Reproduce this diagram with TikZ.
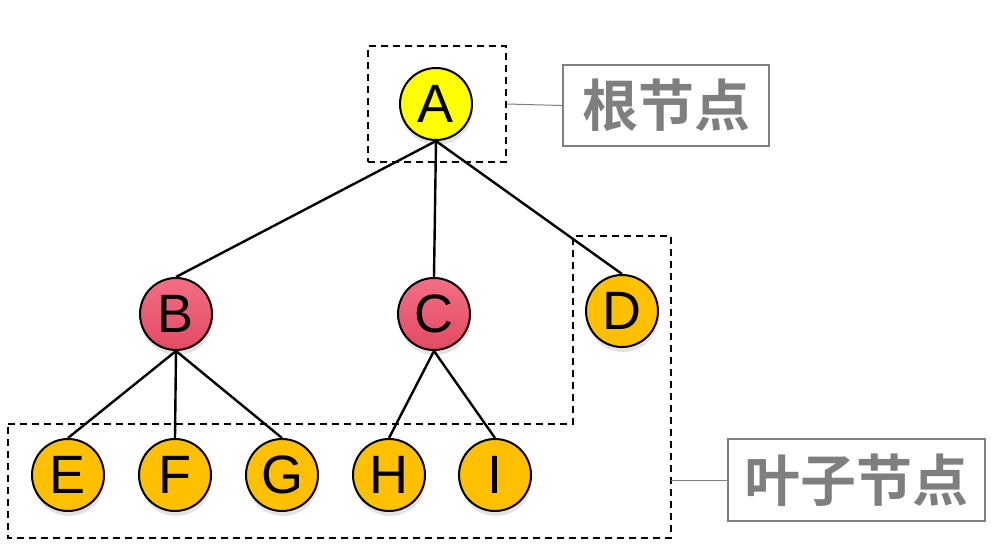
\documentclass[tikz,border=0pt]{standalone}
\usepackage{fontspec}
\setmainfont{Liberation Sans}
\newfontfamily\cjk{Noto Sans CJK SC}[BoldFont={Noto Sans CJK SC Bold}]
\usetikzlibrary{shadows}

\definecolor{rootyellow}{HTML}{FFFF00}
\definecolor{leaforange}{HTML}{FFC000}
\definecolor{innertop}{HTML}{F46F84}
\definecolor{innerbot}{HTML}{E24A63}
\definecolor{labelgray}{HTML}{7F7F7F}

\tikzset{
	treenode/.style={circle, draw=black, line width=2pt, minimum size=72pt, inner sep=0pt,
		font=\fontsize{54}{54}\selectfont,
		drop shadow={shadow xshift=1pt, shadow yshift=-5pt, opacity=0.22}},
	rootnode/.style={treenode, fill=rootyellow},
	innernode/.style={treenode, top color=innertop, bottom color=innerbot},
	leafnode/.style={treenode, fill=leaforange},
	edge/.style={line width=2.4pt, black},
	dashbox/.style={draw=black, line width=1.6pt, dash pattern=on 7pt off 5pt},
	labelbox/.style={draw=labelgray, line width=1.8pt, inner sep=0pt, text=labelgray,
		font=\cjk\bfseries\fontsize{56}{56}\selectfont},
	graylink/.style={draw=labelgray, line width=1pt}
}

\begin{document}
\begin{tikzpicture}[x=1pt, y=-1pt]
	\useasboundingbox (0,0) rectangle (999,545);
	% dashed boxes
	\node[dashbox, minimum width=138pt, minimum height=116pt] (rootbox) at (437,104) {};
	\draw[dashbox] (8,424) -- (573,424) -- (573,236) -- (671,236) -- (671,538) -- (8,538) -- cycle;
	\coordinate (leafedge) at (671,480);
	% tree nodes
	\node[rootnode] (A) at (436,104) {A};
	\node[innernode] (B) at (176,314) {B};
	\node[innernode] (C) at (434,314) {C};
	\node[leafnode] (D) at (622,311) {D};
	\node[leafnode] (E) at (68,475) {E};
	\node[leafnode] (F) at (175,475) {F};
	\node[leafnode] (G) at (282,475) {G};
	\node[leafnode] (H) at (389,475) {H};
	\node[leafnode] (I) at (495,475) {I};
	% edges
	\foreach \c in {B,C,D} {
		\draw[edge] (A.south) -- (\c.north);
	}
	\foreach \c in {E,F,G} {
		\draw[edge] (B.south) -- (\c.north);
	}
	\foreach \c in {H,I} {
		\draw[edge] (C.south) -- (\c.north);
	}
	% labels
	\node[labelbox, minimum width=206pt, minimum height=81pt] (rootlabel) at (666,105.5) {根节点};
	\node[labelbox, minimum width=257pt, minimum height=82pt] (leaflabel) at (856.5,480) {叶子节点};
	\draw[graylink] (rootbox.east) -- (rootlabel.west);
	\draw[graylink] (leafedge) -- (leaflabel.west);
\end{tikzpicture}
\end{document}
